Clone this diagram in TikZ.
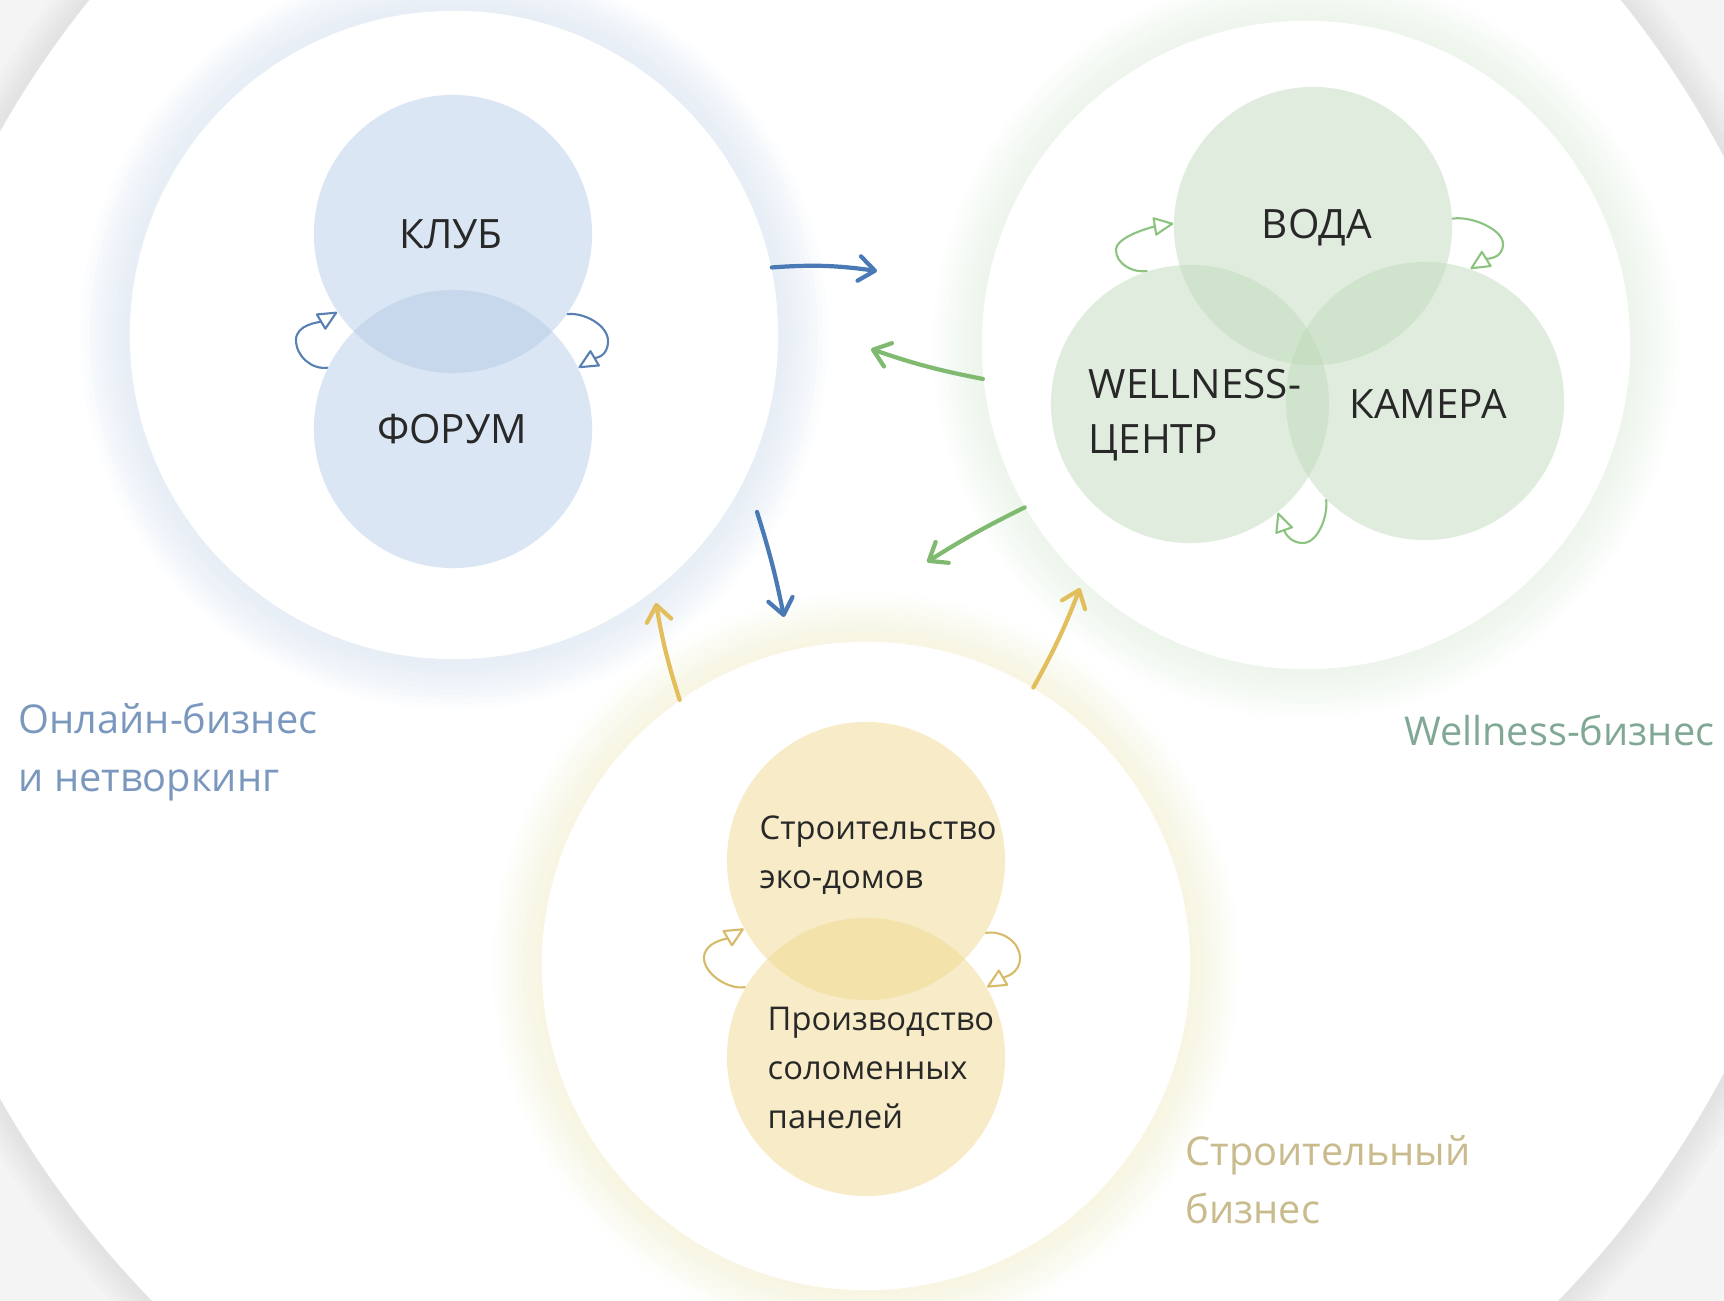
\documentclass[tikz,border=0pt]{standalone}
\usepackage{fontspec}
\setmainfont{Open Sans}
\usetikzlibrary{positioning, arrows.meta}

\definecolor{backgray}{RGB}{244,244,244}
\definecolor{bluefill}{RGB}{178,202,230}
\definecolor{greenfill}{RGB}{191,217,185}
\definecolor{yellowfill}{RGB}{240,215,138}
\definecolor{bluehalo}{RGB}{205,222,242}
\definecolor{greenhalo}{RGB}{214,232,210}
\definecolor{yellowhalo}{RGB}{248,230,175}
\definecolor{bluearrow}{RGB}{74,122,181}
\definecolor{greenarrow}{RGB}{128,186,112}
\definecolor{yellowarrow}{RGB}{226,190,92}
\definecolor{bluecurl}{RGB}{88,128,178}
\definecolor{greencurl}{RGB}{140,195,128}
\definecolor{yellowcurl}{RGB}{214,188,106}
\definecolor{bluetext}{RGB}{122,152,190}
\definecolor{greentext}{RGB}{128,168,148}
\definecolor{yellowtext}{RGB}{201,187,140}
\definecolor{inktext}{RGB}{40,40,40}

\begin{document}
\begin{tikzpicture}[
        x=0.01cm, y=-0.01cm,
        mainblob/.style={circle, fill=white, minimum size=6.48cm, inner sep=0pt},
        blob/.style={circle, minimum size=2.78cm, inner sep=0pt, fill opacity=0.47},
        caption/.style={font=\fontsize{11.5}{15.6}\selectfont, text=inktext, align=left, inner sep=0pt},
        smallcap/.style={font=\fontsize{9.3}{14}\selectfont, text=inktext, align=left, inner sep=0pt},
        grouplabel/.style={font=\fontsize{11.3}{16.5}\selectfont, align=left, inner sep=0pt},
        bigarrow/.style={draw=#1, line width=1.2pt, line cap=round,
          -{Straight Barb[length=4.5pt, width=7pt, round]}},
        curl/.style={draw=#1, line width=0.6pt, line cap=round,
          -{Triangle[open, length=6pt, width=5.5pt, round]}}
      ]
      \useasboundingbox (0,0) rectangle (1724,1301);
      \clip (0,0) rectangle (1724,1301);
      \fill[backgray] (0,0) rectangle (1724,1301);
      \foreach \k in {1,...,6}
        \fill[gray!60, opacity=0.04] (855,615) circle (982+5*\k);
      \fill[white] (855,615) circle (982);

      \foreach \x/\y/\h/\o in {454/335/bluehalo/0.05, 1306/345/greenhalo/0.035, 866/966/yellowhalo/0.035}
        \foreach \k in {1,...,10}
          \fill[\h, opacity=\o] (\x,\y) circle (324+5*\k);

      \node[mainblob] (online) at (454,335) {};
      \node[mainblob] (wellbiz) at (1306,345) {};
      \node[mainblob] (build) at (866,966) {};

      \node[blob, fill=bluefill] (club) at (453,234) {};
      \node[blob, fill=bluefill] (forum) at (453,429) {};
      \node[blob, fill=greenfill] (water) at (1313,226) {};
      \node[blob, fill=greenfill] (wellness) at (1190,404) {};
      \node[blob, fill=greenfill] (camera) at (1425,401) {};
      \node[blob, fill=yellowfill] (house) at (866,861) {};
      \node[blob, fill=yellowfill] (straw) at (866,1057) {};

      \node[caption] (club-t) at (451,234) {КЛУБ};
      \node[caption] (forum-t) at (452,429) {ФОРУМ};
      \node[caption] (water-t) at (1317,228) {ВОДА};
      \node[caption, anchor=west] (wellness-t) at (1088,415) {WELLNESS-\\ЦЕНТР};
      \node[caption] (camera-t) at (1428,404) {КАМЕРА};
      \node[smallcap, anchor=west] (house-t) at (759,855) {Строительство\\эко-домов};
      \node[smallcap, anchor=west] (straw-t) at (767,1068) {Производство\\соломенных\\панелей};

      \node[grouplabel, text=bluetext, anchor=west] (online-l) at (18,752) {Онлайн-бизнес\\и нетворкинг};
      \node[grouplabel, text=greentext, anchor=east] (wellbiz-l) at (1715,730) {Wellness-бизнес};
      \node[grouplabel, text=yellowtext, anchor=west] (build-l) at (1185,1180) {Строительный\\бизнес};

      \coordinate (b1) at (877,271);
      \coordinate (g1) at (871,349);
      \coordinate (b2s) at (757,512);
      \coordinate (b2) at (784,617);
      \coordinate (g2) at (927,562);
      \coordinate (y1) at (656,603);
      \coordinate (y2) at (1080,588);

      \draw[bigarrow=bluearrow] (online.12) to[bend left=6] (b1);
      \draw[bigarrow=greenarrow] (wellbiz.186) to[bend left=4] (g1);
      \draw[bigarrow=bluearrow] (b2s) to[bend left=3] (b2);
      \draw[bigarrow=greenarrow] (wellbiz.210) to[bend right=3] (g2);
      \draw[bigarrow=yellowarrow] (build.125) to[bend left=4] (y1);
      \draw[bigarrow=yellowarrow] (build.59) to[bend right=4] (y2);

      \draw[curl=bluecurl] (forum.154) .. controls +(-16,2) and +(0,16) .. (296,340)
        .. controls +(0,-16) and +(-17,10) .. (club.214);
      \draw[curl=bluecurl] (club.-35) .. controls +(16,-2) and +(0,-16) .. (608,341)
        .. controls +(0,16) and +(17,-10) .. (forum.26);
      \draw[curl=greencurl] (wellness.108) .. controls +(-14,2) and +(0,14) .. (1116,250)
        .. controls +(0,-14) and +(-19,3) .. (water.179);
      \draw[curl=greencurl] (water.3) .. controls +(18,-3) and +(0,-15) .. (1503,244)
        .. controls +(0,15) and +(16,-10) .. (camera.71);
      \draw[curl=greencurl] (camera.225) .. controls +(2,16) and +(15,0) .. (1303,543)
        .. controls +(-15,0) and +(6,17) .. (wellness.-51);
      \draw[curl=yellowcurl] (straw.150) .. controls +(-16,3) and +(0,16) .. (704,958)
        .. controls +(0,-16) and +(-17,10) .. (house.209);
      \draw[curl=yellowcurl] (house.-31) .. controls +(16,-3) and +(0,-16) .. (1020,958)
        .. controls +(0,16) and +(17,-10) .. (straw.30);
      \end{tikzpicture}
\end{document}
